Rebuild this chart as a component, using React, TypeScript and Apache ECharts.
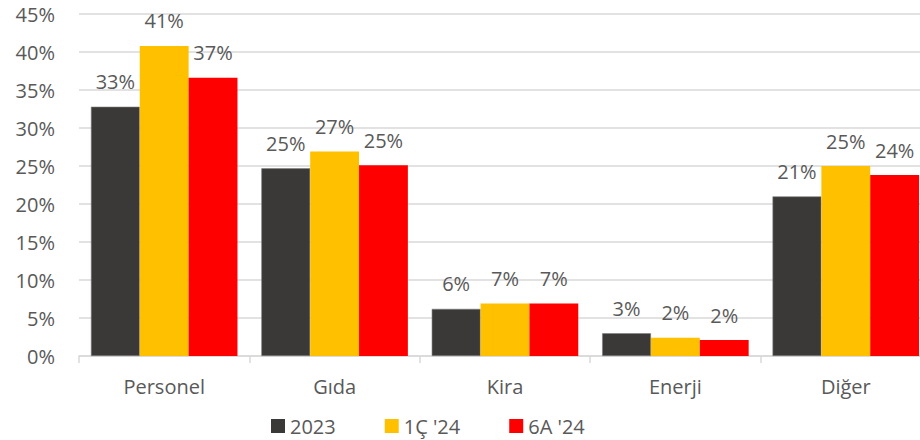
import React, { useEffect, useRef } from "react";
import * as echarts from "echarts";

const categories = ["Personel", "Gıda", "Kira", "Enerji", "Diğer"];
const seriesNames = ["2023", "1Ç '24", "6A '24"];
const values2023 = [32.8, 24.7, 6.2, 3.0, 21.0];
const values1Q24 = [40.8, 26.9, 6.9, 2.4, 25.0];
const values6M24 = [36.6, 25.1, 6.9, 2.1, 23.8];
const colors = ["#3B3838", "#FFC000", "#FF0000"];
const yTicks = [0, 5, 10, 15, 20, 25, 30, 35, 40, 45];

const FONT = "Open Sans";
const GRAY = "#595959";

export default function App() {
  const ref = useRef<HTMLDivElement>(null);
  useEffect(() => {
    document.body.style.margin = "0";
    if (!ref.current) return;
    const chart = echarts.init(ref.current, undefined, { renderer: "svg" });
    const data = [values2023, values1Q24, values6M24];
    chart.setOption({
      animation: false,
      textStyle: { fontFamily: FONT },
      grid: { left: 79, top: 14, width: 852, height: 342, containLabel: false },
      legend: {
        left: 266,
        top: 411,
        icon: "rect",
        itemWidth: 14,
        itemHeight: 14,
        itemGap: 49,
        itemStyle: { borderWidth: 0 },
        textStyle: { fontFamily: FONT, fontSize: 20, color: GRAY },
        data: seriesNames,
      },
      xAxis: {
        type: "category",
        data: categories,
        axisLine: { lineStyle: { color: "#d9d9d9", width: 1.5 } },
        axisTick: { show: true, length: 7, lineStyle: { color: "#d9d9d9", width: 1.5 } },
        axisLabel: { fontFamily: FONT, fontSize: 20, color: GRAY, margin: 20 },
      },
      yAxis: {
        type: "value",
        min: yTicks[0],
        max: yTicks[yTicks.length - 1],
        interval: 5,
        axisLine: { show: false },
        axisTick: { show: false },
        splitLine: { lineStyle: { color: "#d9d9d9", width: 1.5 } },
        axisLabel: {
          fontFamily: FONT,
          fontSize: 20,
          color: GRAY,
          margin: 24,
          formatter: (v: number) => `${v}%`,
        },
      },
      series: seriesNames.map((name, i) => ({
        name,
        type: "bar",
        data: data[i],
        barGap: "0%",
        barCategoryGap: "14%",
        itemStyle: {
          color: colors[i],
          borderColor: i === 0 ? "#7f7f7f" : colors[i],
          borderWidth: i === 0 ? 0.6 : 0,
        },
        label: {
          show: true,
          position: "top",
          distance: 15,
          fontFamily: FONT,
          fontSize: 20,
          color: GRAY,
          formatter: (p: any) => `${Math.round(p.value)}%`,
        },
      })),
    });
    return () => chart.dispose();
  }, []);
  return (
    <div style={{ width: 920, height: 440, overflow: "hidden" }}>
      <div ref={ref} style={{ width: 940, height: 440 }} />
    </div>
  );
}
